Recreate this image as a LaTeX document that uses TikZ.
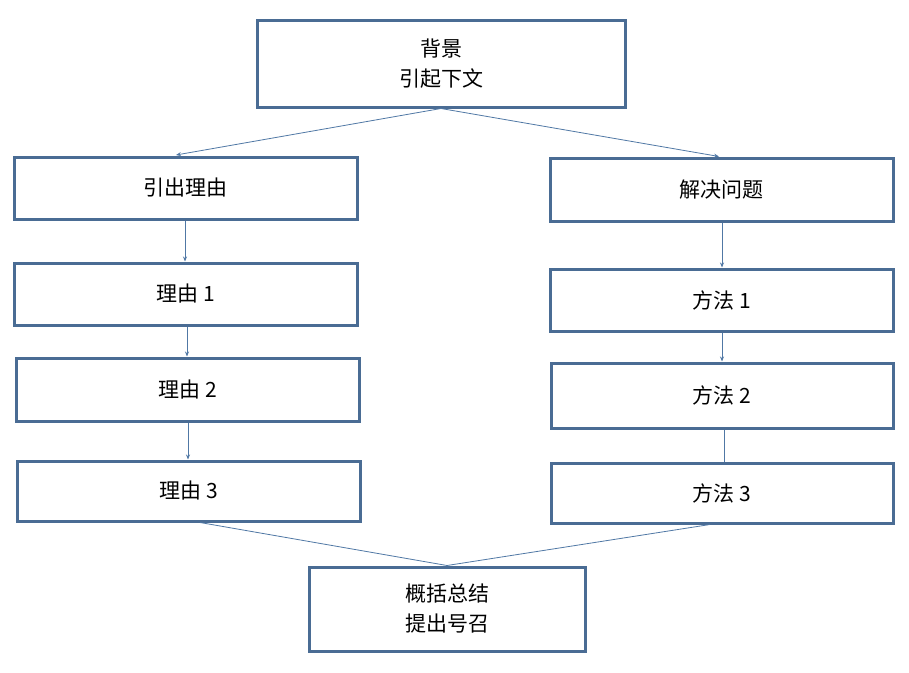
\documentclass[tikz,border=0pt]{standalone}
\usepackage{fontspec}
\setmainfont{Liberation Sans}
\newfontfamily\cjk{Noto Sans CJK SC}
\usetikzlibrary{arrows.meta}
\definecolor{bd}{RGB}{74,108,148}
\definecolor{ln}{RGB}{80,120,165}
\begin{document}
\begin{tikzpicture}[x=1pt,y=-1pt,
  box/.style={draw=bd,line width=3pt,fill=white,inner sep=0pt,align=center,font=\cjk\fontsize{21}{30}\selectfont},
  arr/.style={draw=ln,line width=0.8pt,-{Stealth[length=5pt,width=4pt]}},
  ln/.style={draw=ln,line width=0.8pt}]
\useasboundingbox (0,0) rectangle (909,672);
\fill[white] (0,0) rectangle (909,672);
\newcommand{\bx}[6]{\node[box,minimum width=#4-#2,minimum height=#5-#3] (#1) at ({(#2+#4)/2},{(#3+#5)/2}) {#6};}
\bx{top}{257}{20}{625}{107}{背景\\引起下文}
\bx{r0}{14}{157}{357}{219}{引出理由}
\bx{r1}{14}{263}{357}{325}{理由 1}
\bx{r2}{16}{358}{359}{421}{理由 2}
\bx{r3}{17}{461}{360}{521}{理由 3}
\bx{m0}{550}{158}{893}{221}{解决问题}
\bx{m1}{550}{269}{893}{331}{方法 1}
\bx{m2}{551}{363}{893}{428}{方法 2}
\bx{m3}{551}{463}{893}{523}{方法 3}
\bx{bot}{309}{567}{585}{651}{概括总结\\提出号召}
\coordinate (t0) at (441,108.5);
\coordinate (b0) at (447,565.5);
\draw[arr] (t0) -- (176,155);
\draw[arr] (t0) -- (719,156.5);
\draw[arr] (r0.south -| 185,0) -- (r1.north -| 185,0);
\draw[arr] (r1.south -| 187,0) -- (r2.north -| 187,0);
\draw[arr] (r2.south -| 188,0) -- (r3.north -| 188,0);
\draw[arr] (m0.south -| 722,0) -- (m1.north -| 722,0);
\draw[arr] (m1.south -| 722,0) -- (m2.north -| 722,0);
\draw[ln] (m2.south -| 724,0) -- (m3.north -| 724,0);
\draw[ln] (r3.south -| 200,0) -- (b0);
\draw[ln] (m3.south -| 710,0) -- (b0);
\end{tikzpicture}
\end{document}
